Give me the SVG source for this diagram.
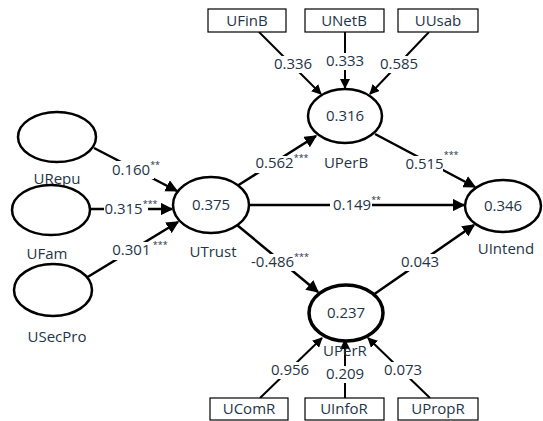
<svg xmlns="http://www.w3.org/2000/svg" width="543" height="421" viewBox="0 0 543 421">
<style>
.c{fill:#fff;stroke:#000;stroke-width:2.5}
.b{fill:#fff;stroke:#000;stroke-width:1.2}
.t{font-family:"Open Sans","Noto Sans",sans-serif;font-size:15px;fill:#243447;text-anchor:middle}
.s{font-size:9px}
.w{fill:#fff}
.l{stroke:#000;stroke-width:2.5;fill:none;marker-end:url(#a)}
.m{stroke:#000;stroke-width:2;fill:none;marker-end:url(#a)}
</style>
<defs>
<marker id="a" viewBox="0 0 10 10" refX="9" refY="5" markerWidth="5" markerHeight="5" orient="auto" markerUnits="strokeWidth"><path d="M0,0 L10,5 L0,10 z" fill="#000"/></marker>
</defs>
<rect width="543" height="421" fill="#fff"/>
<g id="connectors">
<line class="l" x1="94" y1="148" x2="177" y2="191"/>
<line class="l" x1="90" y1="209" x2="172" y2="209"/>
<line class="l" x1="86" y1="278" x2="178" y2="222"/>
<line class="l" x1="237" y1="186" x2="316" y2="136"/>
<line class="l" x1="249" y1="205" x2="464" y2="205"/>
<line class="l" x1="237" y1="225" x2="318" y2="292"/>
<line class="l" x1="375" y1="134" x2="475" y2="187"/>
<line class="l" x1="373" y1="295" x2="474" y2="225"/>
<line class="m" x1="259" y1="32" x2="321" y2="94"/>
<line class="m" x1="345" y1="32" x2="345" y2="88"/>
<line class="m" x1="429" y1="32" x2="370" y2="94"/>
<line class="m" x1="260" y1="398" x2="322" y2="338"/>
<line class="m" x1="345" y1="398" x2="345" y2="340"/>
<line class="m" x1="430" y1="398" x2="368" y2="338"/>
<rect class="w" x="110" y="161" width="44" height="18"/>
<rect class="w" x="104" y="201" width="44" height="17"/>
<rect class="w" x="108" y="242" width="44" height="18"/>
<rect class="w" x="253" y="156" width="44" height="17"/>
<rect class="w" x="330" y="197" width="42" height="17"/>
<rect class="w" x="246" y="254" width="50" height="17"/>
<rect class="w" x="399" y="156" width="44" height="17"/>
<rect class="w" x="399" y="254" width="42" height="17"/>
<rect class="w" x="272" y="56" width="42" height="17"/>
<rect class="w" x="324" y="53" width="42" height="17"/>
<rect class="w" x="378" y="56" width="42" height="17"/>
<rect class="w" x="269" y="362" width="42" height="17"/>
<rect class="w" x="324" y="366" width="42" height="17"/>
<rect class="w" x="382" y="362" width="42" height="17"/>
<text class="t" x="136" y="175">0.160<tspan class="s" dy="-7">**</tspan></text>
<text class="t" x="131" y="214">0.315<tspan class="s" dy="-7">***</tspan></text>
<text class="t" x="140" y="255">0.301<tspan class="s" dy="-7"> ***</tspan></text>
<text class="t" x="282" y="168">0.562<tspan class="s" dy="-7">***</tspan></text>
<text class="t" x="357" y="210">0.149<tspan class="s" dy="-7">**</tspan></text>
<text class="t" x="280" y="267">-0.486<tspan class="s" dy="-7">***</tspan></text>
<text class="t" x="432" y="169">0.515<tspan class="s" dy="-11">***</tspan></text>
<text class="t" x="420" y="267">0.043</text>
<text class="t" x="293" y="69">0.336</text>
<text class="t" x="345" y="66">0.333</text>
<text class="t" x="399" y="69">0.585</text>
<text class="t" x="290" y="375">0.956</text>
<text class="t" x="345" y="379">0.209</text>
<text class="t" x="403" y="375">0.073</text>
</g>
<g id="URepu"><ellipse class="c" cx="57" cy="137" rx="39" ry="25"/><text class="t" x="57" y="184">URepu</text></g>
<g id="UFam"><ellipse class="c" cx="51" cy="210" rx="39" ry="25"/><text class="t" x="47" y="259">UFam</text></g>
<g id="USecPro"><ellipse class="c" cx="53" cy="290" rx="39" ry="26"/><text class="t" x="57" y="342">USecPro</text></g>
<g id="UTrust"><ellipse class="c" cx="211" cy="205" rx="38" ry="28"/><text class="t" x="211" y="210">0.375</text><text class="t" x="213" y="257">UTrust</text></g>
<g id="UPerB"><ellipse class="c" cx="345" cy="116" rx="37" ry="27"/><text class="t" x="345" y="121">0.316</text><text class="t" x="346" y="168">UPerB</text></g>
<g id="UIntend"><ellipse class="c" cx="503" cy="206" rx="38" ry="26"/><text class="t" x="503" y="211">0.346</text><text class="t" x="506" y="254">UIntend</text></g>
<g id="UPerR"><ellipse class="c" cx="346" cy="313" rx="37" ry="28" style="stroke-width:3.5"/><text class="t" x="346" y="318">0.237</text><text class="t" x="345" y="356">UPerR</text></g>
<g id="UFinB"><rect class="b" x="208" y="9" width="78" height="23"/><text class="t" x="247" y="26">UFinB</text></g>
<g id="UNetB"><rect class="b" x="305" y="9" width="79" height="23"/><text class="t" x="344" y="26">UNetB</text></g>
<g id="UUsab"><rect class="b" x="398" y="9" width="80" height="23"/><text class="t" x="438" y="26">UUsab</text></g>
<g id="UComR"><rect class="b" x="210" y="398" width="78" height="22"/><text class="t" x="249" y="414">UComR</text></g>
<g id="UInfoR"><rect class="b" x="305" y="398" width="79" height="22"/><text class="t" x="344" y="414">UInfoR</text></g>
<g id="UPropR"><rect class="b" x="398" y="398" width="80" height="22"/><text class="t" x="438" y="414">UPropR</text></g>
</svg>
